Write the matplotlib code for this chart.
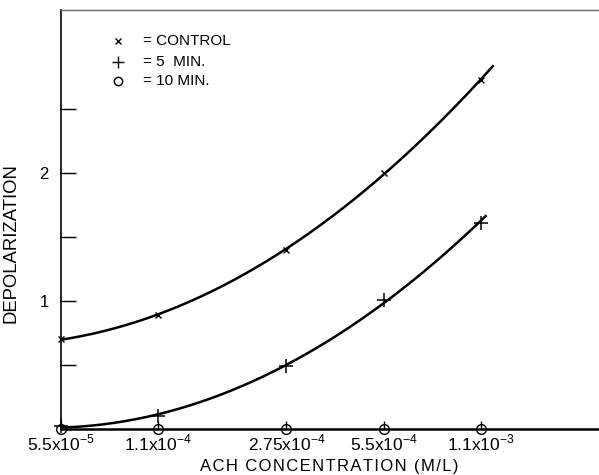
import numpy as np
import matplotlib.pyplot as plt

plt.rcParams['font.family'] = ['Liberation Sans', 'DejaVu Sans']
plt.rcParams['mathtext.fontset'] = 'custom'
plt.rcParams['mathtext.rm'] = 'Liberation Sans'

# ACh concentration (M/L) and depolarization
conc = [5.5e-5, 1.1e-4, 2.75e-4, 5.5e-4, 1.1e-3]
conc_labels = [r'5.5x10$^{-5}$', r'1.1x10$^{-4}$', r'2.75x10$^{-4}$',
               r'5.5x10$^{-4}$', r'1.1x10$^{-3}$']
control = [0.70, 0.89, 1.40, 2.00, 2.72]
min5 = [0.02, 0.10, 0.49, 1.01, 1.61]
min10 = [0.0, 0.0, 0.0, 0.0, 0.0]

fig = plt.figure(figsize=(5.99, 4.75), dpi=100)
ax = fig.add_axes([0.102, 0.097, 0.896, 0.882])

lx = np.log10(conc)
xs = np.linspace(lx[0], np.log10(1.2e-3), 200)

# smooth hand-drawn style curves
c_fit = np.polyfit(lx, control, 2)
ax.plot(10 ** xs, np.polyval(c_fit, xs), color='black', lw=1.8)
m_fit = np.polyfit(lx, min5, 2)
xs5 = np.linspace(lx[0], np.log10(1.14e-3), 200)
ax.plot(10 ** xs5, np.clip(np.polyval(m_fit, xs5), 0, None), color='black', lw=1.8)

ax.plot(conc, control, 'x', color='black', ms=5, mew=1, clip_on=False)
ax.plot(conc, min5, '+', color='black', ms=10, mew=1.1, clip_on=False)
ax.plot(conc, min10, 'o', color='black', ms=7, mfc='none', mew=1, clip_on=False, zorder=5)

ax.set_xscale('log')
ax.set_xlim(5.5e-5, 2.54e-3)
ax.set_ylim(0, 3.27)

ax.set_xticks(conc)
ax.set_xticklabels(conc_labels, fontsize=12.5)
ax.minorticks_off()
ax.tick_params(axis='x', direction='in', length=6, width=1, pad=3)

ax.set_yticks([0.5, 1, 1.5, 2, 2.5])
ax.set_yticklabels(['', '1', '', '2', ''], fontsize=12)
ax.tick_params(axis='y', direction='in', length=11, width=1, pad=9)

ax.spines['right'].set_visible(False)
ax.spines['top'].set_color('dimgray')
ax.spines['top'].set_linewidth(1)
ax.spines['left'].set_linewidth(1.2)
ax.spines['bottom'].set_linewidth(1.8)

xlabel = '\u200a'.join('ACH CONCENTRATION (M/L)')
ax.set_xlabel(xlabel, fontsize=12, labelpad=4)
ax.set_ylabel('DEPOLARIZATION', fontsize=13.3, labelpad=14)
ax.yaxis.set_label_coords(-0.078, 0.444)

# legend drawn as in the original
leg_marks = ['x', '+', 'o']
leg_text = ['= CONTROL', '= 5  MIN.', '= 10 MIN.']
leg_y = [0.925, 0.877, 0.831]
for mk, txt, y in zip(leg_marks, leg_text, leg_y):
    ax.plot([0.106], [y], mk, color='black', transform=ax.transAxes,
            ms={'x': 5, '+': 9, 'o': 6}[mk], mfc='none', mew=1)
    ax.text(0.153, y, txt, transform=ax.transAxes, fontsize=11, va='center')

fig.savefig('out.png', dpi=100)
